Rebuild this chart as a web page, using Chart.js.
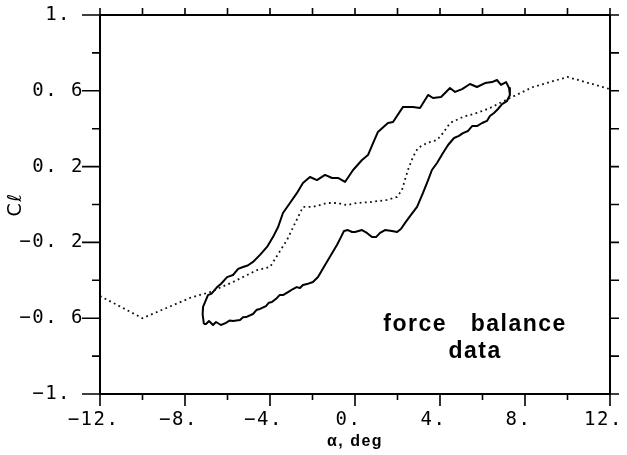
<!DOCTYPE html>
<html><head><meta charset="utf-8">
<script src="https://cdn.jsdelivr.net/npm/chart.js@4"></script>
<style>html,body{margin:0;padding:0;background:#fff}#wrap{position:relative;width:627px;height:455px}</style>
</head><body><div id="wrap"><canvas id="c"></canvas></div>
<script>
const dottedAlpha=[-12,-10,-7.76,-6.82,-5.74,-4.61,-4.0,-3.2,-2.45,-1.98,-1.32,-0.85,-0.38,0.09,0.71,1.51,1.98,2.21,2.49,2.73,2.96,3.39,3.86,4.14,4.47,5.08,5.74,6.35,7.29,8.38,10,12];
const dottedCl=[-0.483,-0.6,-0.493,-0.462,-0.409,-0.346,-0.33,-0.187,-0.013,-0.013,0.008,0.008,-0.003,0.008,0.013,0.024,0.04,0.077,0.182,0.251,0.298,0.325,0.34,0.377,0.43,0.462,0.483,0.509,0.562,0.62,0.673,0.609];

const loopAlpha=[-7.11,-7.17,-7.15,-6.92,-6.75,-6.49,-6.30,-6.02,-5.74,-5.50,-5.27,-5.05,-4.80,-4.47,-4.14,-3.86,-3.62,-3.39,-3.06,-2.73,-2.45,-2.12,-1.79,-1.41,-1.08,-0.80,-0.47,-0.09,0.33,0.61,0.85,1.08,1.55,1.79,2.26,2.73,3.06,3.44,3.67,4.05,4.47,4.71,5.04,5.41,5.74,6.12,6.45,6.68,6.87,7.11,7.25,7.29,7.15,6.92,6.73,6.54,6.35,6.21,5.98,5.74,5.51,5.32,5.08,4.89,4.66,4.38,4.14,3.86,3.62,3.44,3.20,2.92,2.59,2.35,2.16,1.98,1.74,1.41,1.18,0.99,0.80,0.56,0.33,0.00,-0.14,-0.33,-0.52,-0.66,-0.85,-1.13,-1.41,-1.74,-1.98,-2.26,-2.45,-2.59,-2.75,-2.92,-3.15,-3.39,-3.55,-3.67,-3.91,-4.05,-4.19,-4.47,-4.62,-4.80,-5.13,-5.27,-5.41,-5.74,-5.90,-6.07,-6.31,-6.54,-6.68,-6.87,-7.01,-7.11];
const loopCl=[-0.631,-0.580,-0.540,-0.478,-0.470,-0.436,-0.418,-0.383,-0.372,-0.340,-0.330,-0.322,-0.303,-0.266,-0.224,-0.172,-0.119,-0.045,0.008,0.061,0.113,0.145,0.129,0.156,0.140,0.140,0.119,0.182,0.235,0.261,0.324,0.383,0.430,0.435,0.515,0.515,0.509,0.578,0.562,0.567,0.615,0.594,0.609,0.636,0.620,0.641,0.646,0.657,0.631,0.646,0.615,0.578,0.546,0.530,0.504,0.483,0.467,0.441,0.430,0.414,0.414,0.388,0.377,0.362,0.351,0.314,0.272,0.219,0.182,0.129,0.061,-0.013,-0.061,-0.098,-0.129,-0.145,-0.140,-0.135,-0.150,-0.172,-0.172,-0.150,-0.135,-0.145,-0.145,-0.135,-0.140,-0.172,-0.214,-0.266,-0.319,-0.383,-0.409,-0.420,-0.425,-0.441,-0.436,-0.446,-0.462,-0.478,-0.478,-0.493,-0.515,-0.518,-0.536,-0.551,-0.555,-0.578,-0.594,-0.595,-0.609,-0.615,-0.612,-0.625,-0.636,-0.620,-0.636,-0.615,-0.631,-0.631];

const xTickValues=[-12,-8,-4,0,4,8,12];
const xTickLabels=['\u221212. ','\u22128. ','\u22124. ','0. ','4. ','8. ','12. '];
const xMinorValues=[-10,-6,-2,2,6,10];
const yTickValues=[-1,-0.6,-0.2,0.2,0.6,1];
const yTickLabels=['\u22121. ','\u22120. 6','\u22120. 2','0. 2','0. 6','1. '];
const yMinorValues=[-0.8,-0.4,0,0.4,0.8];
const xTitle='\u03b1, deg';
const yTitle='C\u2113';
const noteLines=['force   balance','data'];
const noteAlpha=5.65;
const noteCl=[-0.668,-0.81];

const framePlugin={
  id:'frame',
  beforeDraw(chart){ chart.ctx.letterSpacing='1.5px'; },
  afterDraw(chart){
    const ctx=chart.ctx,a=chart.chartArea,xs=chart.scales.x,ys=chart.scales.y;
    ctx.save();
    ctx.letterSpacing='0px';
    ctx.strokeStyle='#000';ctx.lineWidth=2;
    ctx.strokeRect(a.left,a.top,a.right-a.left,a.bottom-a.top);
    ctx.lineWidth=1.6;
    ctx.beginPath();
    xTickValues.forEach(v=>{const p=xs.getPixelForValue(v);ctx.moveTo(p,a.bottom);ctx.lineTo(p,a.bottom+12);ctx.moveTo(p,a.top);ctx.lineTo(p,a.top-7);});
    xMinorValues.forEach(v=>{const p=xs.getPixelForValue(v);ctx.moveTo(p,a.bottom);ctx.lineTo(p,a.bottom+6);ctx.moveTo(p,a.top);ctx.lineTo(p,a.top-7);});
    yTickValues.forEach(v=>{const p=ys.getPixelForValue(v);ctx.moveTo(a.left,p);ctx.lineTo(a.left-18,p);ctx.moveTo(a.right,p);ctx.lineTo(a.right+9,p);});
    yMinorValues.forEach(v=>{const p=ys.getPixelForValue(v);ctx.moveTo(a.left,p);ctx.lineTo(a.left-8,p);ctx.moveTo(a.right,p);ctx.lineTo(a.right+9,p);});
    ctx.stroke();
    ctx.fillStyle='#000';
    ctx.font='bold 23px "Liberation Sans", Arial, sans-serif';
    ctx.textAlign='center';ctx.textBaseline='alphabetic';
    ctx.letterSpacing='1.5px';
    noteLines.forEach((t,i)=>ctx.fillText(t,xs.getPixelForValue(noteAlpha),ys.getPixelForValue(noteCl[i])));
    ctx.restore();
  }
};

const tickFont={family:'"DejaVu Sans Mono", monospace',size:19};
new Chart(document.getElementById('c'),{
  type:'scatter',
  data:{datasets:[
    {data:dottedAlpha.map((x,i)=>({x,y:dottedCl[i]})),showLine:true,borderColor:'#111',borderWidth:1.8,borderDash:[1.8,3.4],pointRadius:0,tension:0,fill:false},
    {data:loopAlpha.map((x,i)=>({x,y:loopCl[i]})),showLine:true,borderColor:'#000',borderWidth:2,borderJoinStyle:'round',pointRadius:0,tension:0,fill:false}
  ]},
  options:{
    responsive:true,maintainAspectRatio:false,animation:false,
    layout:{padding:{left:0,right:17,top:15,bottom:0}},
    plugins:{legend:{display:false},tooltip:{enabled:false}},
    scales:{
      x:{type:'linear',min:-12,max:12,
        grid:{display:false,drawTicks:false},border:{display:false},
        afterBuildTicks:s=>{s.ticks=xTickValues.map(v=>({value:v}));},
        ticks:{callback:(v,i)=>xTickLabels[i],maxRotation:0,autoSkip:false,padding:15,color:'#000',font:tickFont},
        title:{display:true,text:xTitle,color:'#000',font:{family:'"Liberation Sans", Arial, sans-serif',size:16,weight:'bold'},padding:{top:0,bottom:4}},
        afterFit:s=>{s.height=61;s.paddingLeft=0;s.paddingRight=0;}
      },
      y:{type:'linear',min:-1,max:1,
        grid:{display:false,drawTicks:false},border:{display:false},
        afterBuildTicks:s=>{s.ticks=yTickValues.map(v=>({value:v}));},
        ticks:{callback:(v,i)=>yTickLabels[i],autoSkip:false,padding:16,color:'#000',font:tickFont},
        title:{display:true,text:yTitle,color:'#000',font:{family:'"DejaVu Sans", sans-serif',size:19},padding:{top:5,bottom:0}},
        afterFit:s=>{s.width=100;s.paddingTop=0;s.paddingBottom=0;}
      }
    }
  },
  plugins:[framePlugin]
});
</script></body></html>
